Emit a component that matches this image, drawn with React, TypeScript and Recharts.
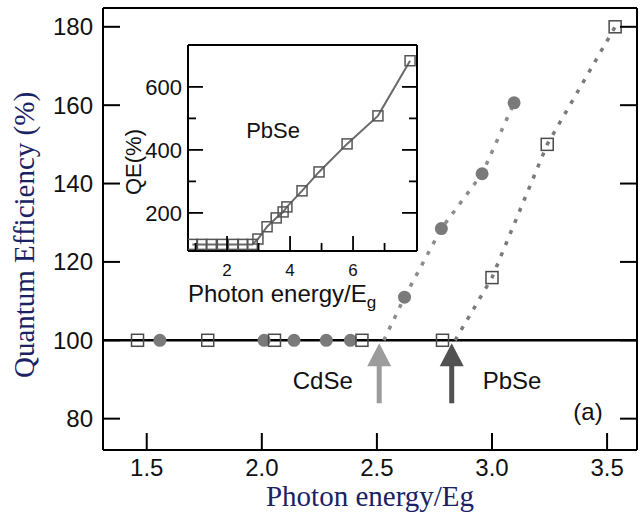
import React from "react";
import { ScatterChart, Scatter, XAxis, YAxis, ReferenceLine, Label } from "recharts";

// main panel: quantum efficiency vs photon energy / Eg
const pbseX = [1.46, 1.765, 2.055, 2.435, 2.785, 3.0, 3.24, 3.535];
const pbseY = [100, 100, 100, 100, 100, 116, 150, 180];
const cdseX = [1.557, 2.01, 2.14, 2.28, 2.385, 2.62, 2.78, 2.957, 3.096];
const cdseY = [100, 100, 100, 100, 100, 111, 128.5, 142.5, 160.6];
const cdseFitX = [2.53, 2.62, 2.78, 2.957, 3.096];
const cdseFitY = [100, 111, 128.5, 142.5, 160.6];
const pbseFitX = [2.84, 3.0, 3.24, 3.535];
const pbseFitY = [100, 116, 150, 180];
const onsetX = [2.51, 2.825];
const onsetColors = ["#9c9c9c", "#525252"];
const noteText = ["CdSe", "PbSe", "(a)"];
const noteX = [2.265, 3.087, 3.417];
const noteY = [89.6, 89.6, 81.9];
const xTicks = [1.5, 2.0, 2.5, 3.0, 3.5];
const yTicks = [80, 100, 120, 140, 160, 180];

// inset: PbSe QE over a wider energy range
const insetX = [0.9, 1.2, 1.5, 1.85, 2.2, 2.5, 2.8, 2.98, 3.27, 3.56, 3.78, 3.9, 4.38, 4.92, 5.81, 6.79, 7.81];
const insetY = [100, 100, 100, 100, 100, 100, 100, 117, 156, 184, 203, 219, 270, 330, 419, 508, 683];
const insetXTicks = [1, 2, 3, 4, 5, 6, 7];
const insetYTicks = [200, 300, 400, 500, 600];

const zip = (xs: number[], ys: number[]) => xs.map((x, i) => ({ x, y: ys[i] }));

const SANS = "'Liberation Sans', Arial, sans-serif";
const SERIF = "'Liberation Serif', 'Times New Roman', serif";
const TITLE = "#1b2263";

type TickOpts = {
  side: "top" | "bottom" | "left" | "right";
  len: number;
  minorLen?: number;
  isMajor?: (v: number) => boolean;
  label?: boolean;
  gap?: number;
  fontSize?: number;
  width?: number;
  fmt?: (v: number) => string;
};

const dirs = { top: [0, 1], bottom: [0, -1], left: [1, 0], right: [-1, 0] };

const makeTick = (o: TickOpts) => (props: any) => {
  const { x, y, payload } = props;
  const v = Number(payload.value);
  const major = o.isMajor ? o.isMajor(v) : true;
  const len = major ? o.len : o.minorLen ?? 0;
  const d = dirs[o.side];
  const txt = o.label && major ? (o.fmt ? o.fmt(v) : String(v)) : null;
  return (
    <g>
      <line x1={x} y1={y} x2={x + d[0] * len} y2={y + d[1] * len} stroke="#000" strokeWidth={o.width ?? 2} />
      {txt &&
        (o.side === "bottom" ? (
          <text x={x} y={y + (o.gap ?? 0)} textAnchor="middle" fontSize={o.fontSize} fontFamily={SANS} fill="#111">
            {txt}
          </text>
        ) : (
          <text x={x - (o.gap ?? 0)} y={y} dy="0.35em" textAnchor="end" fontSize={o.fontSize} fontFamily={SANS} fill="#111">
            {txt}
          </text>
        ))}
    </g>
  );
};

const Square = (size: number, stroke: string) => (p: any) =>
  <rect x={p.cx - size / 2} y={p.cy - size / 2} width={size} height={size} fill="none" stroke={stroke} strokeWidth={1.5} />;

const Dot = (p: any) => <circle cx={p.cx} cy={p.cy} r={6.5} fill="#7a7a7a" />;

const Arrow = (p: any) => {
  const { cx, cy, payload } = p;
  const tip = cy + 3;
  const base = tip + 23;
  return (
    <g fill={payload.color}>
      <polygon points={`${cx},${tip} ${cx - 12},${base} ${cx + 12},${base}`} />
      <rect x={cx - 2.5} y={base - 1} width={5} height={38} />
    </g>
  );
};

const Note = (p: any) => (
  <text x={p.cx} y={p.cy} dy="0.35em" textAnchor="middle" fontSize={24} fontFamily={SANS} fill="#111">
    {p.payload.text}
  </text>
);

const Nothing = () => <g />;

const axisLine = { stroke: "#000", strokeWidth: 2 };

export default function App() {
  const onsets = onsetX.map((x, i) => ({ x, y: 100, color: onsetColors[i] }));
  const notes = noteText.map((text, i) => ({ x: noteX[i], y: noteY[i], text }));
  const xDom: [number, number] = [1.31, 3.63];
  const yDom: [number, number] = [72, 184.8];
  const ixDom: [number, number] = [0.76, 8.03];
  const iyDom: [number, number] = [79, 733];
  const even = (v: number) => v % 2 === 0;
  const hundreds = (v: number) => v % 200 === 0;

  return (
    <div style={{ position: "absolute", left: 0, top: 0, width: 643, height: 518, background: "#fff" }}>
      <div style={{ position: "absolute", left: 0, top: 0 }}>
        <ScatterChart width={643} height={518} margin={{ top: 7, right: 5, bottom: 0, left: 8 }}>
          <XAxis
            xAxisId={0}
            dataKey="x"
            type="number"
            domain={xDom}
            allowDataOverflow
            ticks={xTicks}
            interval={0}
            height={68}
            tickSize={0}
            tickMargin={0}
            tickLine={false}
            axisLine={axisLine}
            tick={makeTick({ side: "bottom", len: 17, label: true, gap: 26, fontSize: 24, fmt: (v) => v.toFixed(1) })}
          >
            <Label
              content={(p: any) => (
                <text
                  x={p.viewBox.x + p.viewBox.width / 2}
                  y={p.viewBox.y + p.viewBox.height - 12}
                  textAnchor="middle"
                  fontSize={29}
                  fontFamily={SERIF}
                  fill={TITLE}
                >
                  Photon energy/Eg
                </text>
              )}
            />
          </XAxis>
          <XAxis
            xAxisId="top"
            orientation="top"
            type="number"
            domain={xDom}
            allowDataOverflow
            ticks={xTicks}
            interval={0}
            height={1}
            tickSize={0}
            tickMargin={0}
            tickLine={false}
            axisLine={axisLine}
            tick={makeTick({ side: "top", len: 17 })}
          />
          <YAxis
            yAxisId={0}
            dataKey="y"
            type="number"
            domain={yDom}
            allowDataOverflow
            ticks={yTicks}
            interval={0}
            width={95}
            tickSize={0}
            tickMargin={0}
            tickLine={false}
            axisLine={axisLine}
            tick={makeTick({ side: "left", len: 17, label: true, gap: 10, fontSize: 24 })}
          >
            <Label
              content={(p: any) => {
                const x = p.viewBox.x + 26;
                const y = p.viewBox.y + p.viewBox.height / 2 + 6;
                return (
                  <text x={x} y={y} transform={`rotate(-90, ${x}, ${y})`} textAnchor="middle" fontSize={29} fontFamily={SERIF} fill={TITLE}>
                    Quantum Efficiency (%)
                  </text>
                );
              }}
            />
          </YAxis>
          <YAxis
            yAxisId="right"
            orientation="right"
            type="number"
            domain={yDom}
            allowDataOverflow
            ticks={yTicks}
            interval={0}
            width={1}
            tickSize={0}
            tickMargin={0}
            tickLine={false}
            axisLine={axisLine}
            tick={makeTick({ side: "right", len: 17 })}
          />
          <ReferenceLine y={100} stroke="#000" strokeWidth={2.5} />
          <Scatter data={zip(cdseFitX, cdseFitY)} line={{ stroke: "#8c8c8c", strokeWidth: 3.5, strokeDasharray: "4 8" }} shape={Nothing} isAnimationActive={false} />
          <Scatter data={zip(pbseFitX, pbseFitY)} line={{ stroke: "#7a7a7a", strokeWidth: 3.5, strokeDasharray: "4 8" }} shape={Nothing} isAnimationActive={false} />
          <Scatter data={zip(cdseX, cdseY)} shape={Dot} isAnimationActive={false} />
          <Scatter data={zip(pbseX, pbseY)} shape={Square(12, "#4a4a4a")} isAnimationActive={false} />
          <Scatter data={onsets} shape={Arrow} isAnimationActive={false} />
          <Scatter data={notes} shape={Note} isAnimationActive={false} />
        </ScatterChart>
      </div>

      <div style={{ position: "absolute", left: 110, top: 35 }}>
        <ScatterChart width={320} height={285} margin={{ top: 9, right: 12, bottom: 0, left: 20 }}>
          <XAxis
            xAxisId={0}
            dataKey="x"
            type="number"
            domain={ixDom}
            allowDataOverflow
            ticks={insetXTicks}
            interval={0}
            height={69}
            tickSize={0}
            tickMargin={0}
            tickLine={false}
            axisLine={axisLine}
            tick={makeTick({ side: "bottom", len: 15, minorLen: 8, isMajor: even, label: true, gap: 25, fontSize: 17, width: 1.8 })}
          >
            <Label
              content={(p: any) => (
                <text x={p.viewBox.x} y={p.viewBox.y + 51} fontSize={24} fontFamily={SANS} fill="#111">
                  Photon energy/E
                  <tspan fontSize={17} dy={6}>
                    g
                  </tspan>
                </text>
              )}
            />
          </XAxis>
          <XAxis
            xAxisId="top"
            orientation="top"
            type="number"
            domain={ixDom}
            allowDataOverflow
            ticks={insetXTicks}
            interval={0}
            height={1}
            tickSize={0}
            tickMargin={0}
            tickLine={false}
            axisLine={axisLine}
            tick={makeTick({ side: "top", len: 15, minorLen: 8, isMajor: even, width: 1.8 })}
          />
          <YAxis
            yAxisId={0}
            dataKey="y"
            type="number"
            domain={iyDom}
            allowDataOverflow
            ticks={insetYTicks}
            interval={0}
            width={58}
            tickSize={0}
            tickMargin={0}
            tickLine={false}
            axisLine={axisLine}
            tick={makeTick({ side: "left", len: 15, minorLen: 8, isMajor: hundreds, label: true, gap: 6, fontSize: 22, width: 1.8 })}
          >
            <Label
              content={(p: any) => {
                const x = p.viewBox.x + 11;
                const y = p.viewBox.y + p.viewBox.height / 2 + 14;
                return (
                  <text x={x} y={y} transform={`rotate(-90, ${x}, ${y})`} textAnchor="middle" fontSize={22} fontFamily={SANS} fill="#111">
                    QE(%)
                  </text>
                );
              }}
            />
          </YAxis>
          <YAxis
            yAxisId="right"
            orientation="right"
            type="number"
            domain={iyDom}
            allowDataOverflow
            ticks={insetYTicks}
            interval={0}
            width={1}
            tickSize={0}
            tickMargin={0}
            tickLine={false}
            axisLine={axisLine}
            tick={makeTick({ side: "right", len: 15, minorLen: 8, isMajor: hundreds, width: 1.8 })}
          />
          <Scatter
            data={zip(insetX, insetY)}
            line={{ stroke: "#6a6a6a", strokeWidth: 2 }}
            shape={Square(10, "#555")}
            isAnimationActive={false}
          />
          <Scatter
            data={[{ x: 3.46, y: 463, text: "PbSe" }]}
            shape={(p: any) => (
              <text x={p.cx} y={p.cy} dy="0.35em" textAnchor="middle" fontSize={22} fontFamily={SANS} fill="#111">
                {p.payload.text}
              </text>
            )}
            isAnimationActive={false}
          />
        </ScatterChart>
      </div>
    </div>
  );
}
